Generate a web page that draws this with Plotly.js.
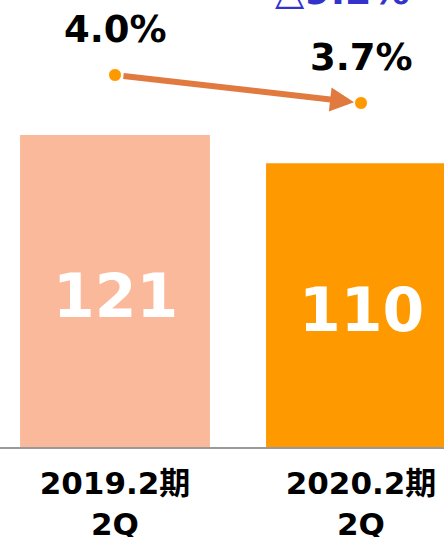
<!DOCTYPE html>
<html>
<head>
<meta charset="utf-8">
<script src="https://cdn.plot.ly/plotly-3.0.1.min.js"></script>
<style>html,body{margin:0;padding:0;background:#fff;overflow:hidden}#chart{width:444px;height:537px}</style>
</head>
<body>
<div id="chart"></div>
<script>
const categories = ["2019.2期<br>2Q", "2020.2期<br>2Q"];
const salesValues = [121, 110];
const ratioValues = [4.0, 3.7];
const ratioLabels = ["4.0%", "3.7%"];
const changeLabel = "△9.2%";
const barColors = ["#FBB99B", "#FF9900"];

const xs = categories.map((c, i) => i);
const FONT = "DejaVu Sans, Noto Sans CJK JP, sans-serif";

const traces = [
  {
    type: "bar", x: xs, y: salesValues, width: 0.772,
    marker: {color: barColors}, hoverinfo: "none", showlegend: false
  },
  {
    type: "scatter", mode: "markers", x: xs, y: ratioValues, yaxis: "y2",
    marker: {color: "#FF9900", size: 13, line: {color: "#fff", width: 1}},
    hoverinfo: "none", showlegend: false
  }
];

const annotations = [];
salesValues.forEach((v, i) => {
  annotations.push({
    x: xs[i], y: v / 2, xref: "x", yref: "y", text: "<b>" + v + "</b>",
    showarrow: false, yshift: -5,
    font: {family: FONT, size: 60, color: "#ffffff"}
  });
});
ratioValues.forEach((v, i) => {
  annotations.push({
    x: xs[i], y: v, xref: "x", yref: "y2", text: "<b>" + ratioLabels[i] + "</b>",
    showarrow: false, yshift: 46,
    font: {family: FONT, size: 37, color: "#000000"}
  });
});
annotations.push({
  x: xs[1], y: ratioValues[1], xref: "x", yref: "y2",
  ax: xs[0], ay: ratioValues[0], axref: "x", ayref: "y2",
  showarrow: true, arrowhead: 2, arrowsize: 0.8, arrowwidth: 6,
  arrowcolor: "#E07A3E", standoff: 7, startstandoff: 7, text: ""
});
annotations.push({
  x: 342 / 444, y: 1.02, xref: "paper", yref: "paper", xanchor: "center", yanchor: "middle",
  text: "<b>" + changeLabel + "</b>", showarrow: false,
  font: {family: FONT, size: 38, color: "#3333CC"}
});

const layout = {
  width: 444, height: 537,
  margin: {l: 0, r: 0, t: 0, b: 90, pad: 0},
  paper_bgcolor: "#ffffff", plot_bgcolor: "#ffffff",
  xaxis: {
    type: "linear", range: [-0.4675, 1.3374], fixedrange: true,
    tickvals: xs, ticktext: categories.map(c => "<b>" + c.replace("<br>", "</b><br><b>") + "</b>"),
    tickfont: {family: FONT, size: 31, color: "#000000"},
    showline: true, linecolor: "#999999", linewidth: 2,
    showgrid: false, zeroline: false, ticks: "outside", ticklen: 8, tickcolor: "rgba(0,0,0,0)"
  },
  yaxis: {range: [0, 173.3], visible: false, showgrid: false, zeroline: false, fixedrange: true},
  yaxis2: {range: [0.013, 4.804], overlaying: "y", visible: false, showgrid: false, zeroline: false},
  annotations: annotations,
  showlegend: false
};

Plotly.newPlot("chart", traces, layout, {displayModeBar: false, staticPlot: true});
</script>
</body>
</html>
